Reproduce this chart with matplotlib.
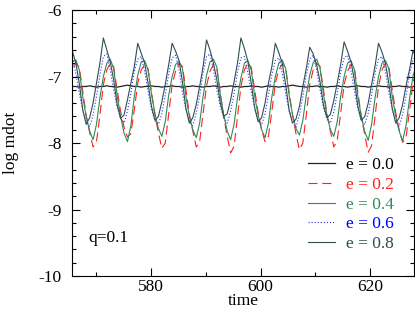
import matplotlib
matplotlib.use("Agg")
import matplotlib.pyplot as plt
from matplotlib.ticker import MultipleLocator

plt.rcParams['font.family'] = ['Liberation Serif', 'DejaVu Serif']
plt.rcParams['lines.scale_dashes'] = False
plt.rcParams['axes.unicode_minus'] = False

# time samples (one row per orbit)
time = [
    565.00, 565.63, 566.26, 566.88, 567.51, 568.14, 568.77, 569.40, 570.02, 570.65,
    571.28, 571.91, 572.54, 573.16, 573.79, 574.42, 575.05, 575.68, 576.30, 576.93,
    577.56, 578.19, 578.82, 579.44, 580.07, 580.70, 581.33, 581.96, 582.58, 583.21,
    583.84, 584.47, 585.10, 585.72, 586.35, 586.98, 587.61, 588.24, 588.86, 589.49,
    590.12, 590.75, 591.38, 592.00, 592.63, 593.26, 593.89, 594.52, 595.14, 595.77,
    596.40, 597.03, 597.66, 598.28, 598.91, 599.54, 600.17, 600.80, 601.42, 602.05,
    602.68, 603.31, 603.94, 604.56, 605.19, 605.82, 606.45, 607.08, 607.70, 608.33,
    608.96, 609.59, 610.22, 610.84, 611.47, 612.10, 612.73, 613.36, 613.98, 614.61,
    615.24, 615.87, 616.50, 617.12, 617.75, 618.38, 619.01, 619.64, 620.26, 620.89,
    621.52, 622.15, 622.78, 623.40, 624.03, 624.66, 625.29, 625.92, 626.54, 627.17,
    627.80, 628.43,
]

mdot_e00 = [
    -7.14, -7.15, -7.15, -7.16, -7.15, -7.15, -7.14, -7.15, -7.16, -7.15,
    -7.15, -7.14, -7.15, -7.15, -7.16, -7.15, -7.14, -7.13, -7.14, -7.15,
    -7.15, -7.16, -7.15, -7.15, -7.14, -7.15, -7.15, -7.16, -7.15, -7.15,
    -7.14, -7.15, -7.15, -7.16, -7.15, -7.15, -7.14, -7.15, -7.15, -7.16,
    -7.15, -7.15, -7.14, -7.15, -7.16, -7.15, -7.15, -7.14, -7.15, -7.15,
    -7.16, -7.15, -7.15, -7.14, -7.15, -7.15, -7.16, -7.15, -7.14, -7.15,
    -7.15, -7.16, -7.15, -7.15, -7.14, -7.13, -7.14, -7.15, -7.15, -7.16,
    -7.15, -7.15, -7.14, -7.15, -7.15, -7.16, -7.15, -7.15, -7.14, -7.15,
    -7.15, -7.16, -7.15, -7.15, -7.14, -7.15, -7.15, -7.16, -7.15, -7.15,
    -7.14, -7.15, -7.15, -7.16, -7.15, -7.15, -7.14, -7.15, -7.15, -7.16,
    -7.15, -7.15,
]

mdot_e02 = [
    -7.05, -6.88, -6.80, -6.86, -7.22, -7.58, -7.84, -8.06, -7.98, -7.58,
    -7.12, -6.90, -6.80, -6.85, -7.20, -7.52, -7.76, -7.91, -7.86, -7.50,
    -7.10, -6.90, -6.82, -6.88, -7.24, -7.58, -7.85, -8.08, -8.00, -7.56,
    -7.12, -6.92, -6.80, -6.85, -7.20, -7.56, -7.82, -8.06, -7.98, -7.55,
    -7.14, -6.92, -6.82, -6.88, -7.25, -7.60, -7.90, -8.15, -8.05, -7.60,
    -7.15, -6.90, -6.80, -6.86, -7.20, -7.54, -7.80, -7.98, -7.90, -7.52,
    -7.10, -6.90, -6.81, -6.87, -7.23, -7.58, -7.86, -8.10, -8.00, -7.58,
    -7.12, -6.90, -6.80, -6.85, -7.20, -7.56, -7.82, -8.06, -7.96, -7.55,
    -7.12, -6.92, -6.82, -6.88, -7.24, -7.60, -7.88, -8.14, -8.04, -7.60,
    -7.15, -6.90, -6.80, -6.86, -7.20, -7.54, -7.80, -7.99, -7.92, -7.52,
    -7.10, -6.90,
]

mdot_e04 = [
    -6.95, -6.78, -6.75, -6.90, -7.30, -7.60, -7.82, -7.95, -7.72, -7.32,
    -7.00, -6.80, -6.74, -6.88, -7.28, -7.60, -7.85, -7.98, -7.74, -7.30,
    -6.98, -6.78, -6.76, -6.90, -7.26, -7.56, -7.78, -7.90, -7.68, -7.28,
    -7.00, -6.82, -6.77, -6.88, -7.30, -7.60, -7.80, -7.92, -7.70, -7.30,
    -6.98, -6.78, -6.74, -6.86, -7.27, -7.58, -7.82, -7.95, -7.72, -7.32,
    -7.02, -6.80, -6.76, -6.90, -7.30, -7.58, -7.80, -7.92, -7.70, -7.30,
    -7.00, -6.80, -6.75, -6.88, -7.28, -7.57, -7.78, -7.88, -7.66, -7.28,
    -6.98, -6.79, -6.74, -6.87, -7.27, -7.58, -7.80, -7.90, -7.68, -7.30,
    -7.00, -6.80, -6.76, -6.90, -7.30, -7.60, -7.83, -7.96, -7.72, -7.32,
    -7.00, -6.80, -6.76, -6.88, -7.30, -7.60, -7.82, -7.97, -7.74, -7.34,
    -7.00, -6.82,
]

mdot_e06 = [
    -6.80, -6.72, -6.95, -7.25, -7.50, -7.68, -7.75, -7.58, -7.30, -6.98,
    -6.70, -6.66, -6.90, -7.20, -7.46, -7.63, -7.70, -7.52, -7.25, -6.92,
    -6.74, -6.70, -6.93, -7.22, -7.50, -7.66, -7.72, -7.56, -7.28, -6.96,
    -6.72, -6.68, -6.90, -7.24, -7.50, -7.68, -7.74, -7.55, -7.30, -6.95,
    -6.70, -6.66, -6.90, -7.20, -7.45, -7.62, -7.70, -7.52, -7.26, -6.93,
    -6.72, -6.70, -6.94, -7.23, -7.48, -7.66, -7.73, -7.56, -7.28, -6.97,
    -6.76, -6.72, -6.95, -7.25, -7.52, -7.70, -7.76, -7.58, -7.30, -6.98,
    -6.74, -6.68, -6.90, -7.20, -7.47, -7.64, -7.70, -7.53, -7.26, -6.94,
    -6.72, -6.68, -6.92, -7.22, -7.49, -7.66, -7.72, -7.55, -7.28, -6.95,
    -6.74, -6.70, -6.93, -7.24, -7.50, -7.68, -7.75, -7.57, -7.30, -6.97,
    -6.75, -6.70,
]

mdot_e08 = [
    -6.55, -6.62, -6.80, -7.10, -7.50, -7.72, -7.62, -7.40, -7.10, -6.80,
    -6.42, -6.60, -6.78, -7.05, -7.42, -7.63, -7.58, -7.35, -7.10, -6.85,
    -6.50, -6.65, -6.80, -7.10, -7.45, -7.66, -7.60, -7.38, -7.12, -6.82,
    -6.50, -6.62, -6.76, -7.08, -7.48, -7.70, -7.62, -7.42, -7.15, -6.85,
    -6.45, -6.60, -6.80, -7.05, -7.40, -7.60, -7.56, -7.35, -7.08, -6.80,
    -6.42, -6.58, -6.77, -7.10, -7.47, -7.68, -7.62, -7.40, -7.10, -6.85,
    -6.50, -6.64, -6.80, -7.12, -7.50, -7.70, -7.64, -7.45, -7.15, -6.88,
    -6.56, -6.66, -6.82, -7.08, -7.43, -7.62, -7.57, -7.36, -7.10, -6.82,
    -6.48, -6.62, -6.78, -7.06, -7.45, -7.66, -7.60, -7.40, -7.12, -6.84,
    -6.50, -6.63, -6.80, -7.10, -7.48, -7.70, -7.62, -7.42, -7.14, -6.90,
    -6.62, -6.70,
]

labels = ['e = 0.0', 'e = 0.2', 'e = 0.4', 'e = 0.6', 'e = 0.8']
colors = ['#222222', '#ff2020', '#2e8b57', '#3030ff', '#2f4f4f']
text_colors = ['black', '#ff2020', '#2e8b57', '#0000ff', '#2f4f4f']

fig = plt.figure(figsize=(4.15, 3.11), dpi=100)
ax = fig.add_axes([0.1728, 0.1125, 0.8248, 0.8553])

ax.plot(time, mdot_e00, color=colors[0], lw=0.9, label=labels[0])
ax.plot(time, mdot_e02, color=colors[1], lw=0.8, dashes=(6.5, 3.5), label=labels[1])
ax.plot(time, mdot_e04, color=colors[2], lw=0.8, label=labels[2])
ax.plot(time, mdot_e06, color=colors[3], lw=0.8, dashes=(0.8, 1.4), label=labels[3])
ax.plot(time, mdot_e08, color=colors[4], lw=0.8, label=labels[4])

ax.set_xlim(565.5, 628.0)
ax.set_ylim(-10, -6)
ax.xaxis.set_major_locator(MultipleLocator(20))
ax.xaxis.set_minor_locator(MultipleLocator(10))
ax.yaxis.set_major_locator(MultipleLocator(1))
ax.yaxis.set_minor_locator(MultipleLocator(0.2))
ax.tick_params(which='both', direction='in', top=True, right=True,
               labelsize=12.5, width=0.8)
ax.tick_params(which='major', length=6)
ax.tick_params(which='minor', length=3)
ax.tick_params(axis='x', pad=2.5)
ax.tick_params(axis='y', pad=7)
for s in ax.spines.values():
    s.set_linewidth(0.8)

ax.set_xlabel('time', fontsize=12.5, labelpad=-2)
ax.set_ylabel('log mdot', fontsize=12.5, labelpad=14)

ax.text(568.5, -9.43, 'q=0.1', fontsize=12.5, ha='left', va='center')

leg = ax.legend(loc='lower right', bbox_to_anchor=(0.976, 0.045), frameon=False,
                fontsize=12.5, handlelength=1.6, handletextpad=0.6,
                labelspacing=0.2, borderpad=0.2)
for txt, c in zip(leg.get_texts(), text_colors):
    txt.set_color(c)

fig.savefig('out.png', dpi=100)
